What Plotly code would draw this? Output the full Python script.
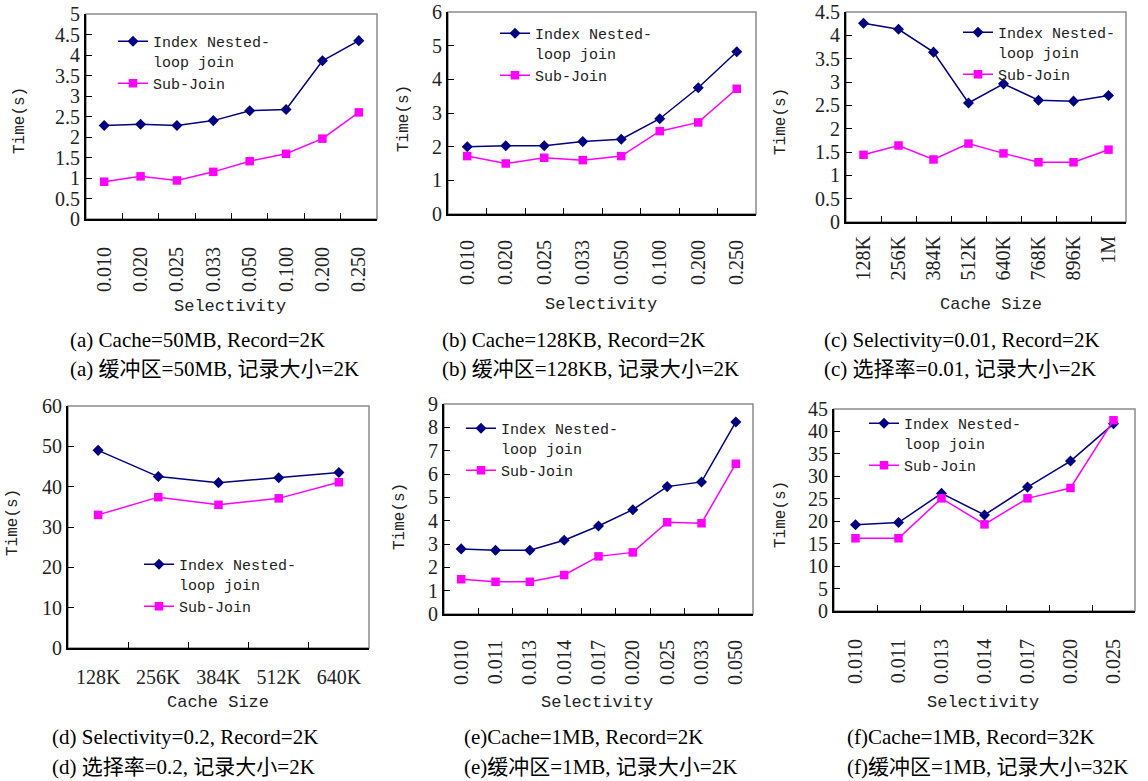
import plotly.graph_objects as go

W, H = 1148, 781

# ---------------- data ----------------
sel_a = ["0.010", "0.020", "0.025", "0.033", "0.050", "0.100", "0.200", "0.250"]
inlj_a = [2.28, 2.31, 2.28, 2.40, 2.64, 2.67, 3.86, 4.35]
sub_a = [0.91, 1.04, 0.94, 1.15, 1.41, 1.59, 1.96, 2.60]

sel_b = ["0.010", "0.020", "0.025", "0.033", "0.050", "0.100", "0.200", "0.250"]
inlj_b = [2.00, 2.03, 2.03, 2.15, 2.22, 2.83, 3.75, 4.82]
sub_b = [1.72, 1.50, 1.67, 1.60, 1.72, 2.46, 2.72, 3.72]

cache_c = ["128K", "256K", "384K", "512K", "640K", "768K", "896K", "1M"]
inlj_c = [4.26, 4.13, 3.64, 2.55, 2.96, 2.61, 2.59, 2.71]
sub_c = [1.44, 1.64, 1.34, 1.68, 1.47, 1.28, 1.28, 1.55]

cache_d = ["128K", "256K", "384K", "512K", "640K"]
inlj_d = [49.0, 42.5, 41.0, 42.2, 43.5]
sub_d = [33.0, 37.4, 35.5, 37.1, 41.1]

sel_e = ["0.010", "0.011", "0.013", "0.014", "0.017", "0.020", "0.025", "0.033", "0.050"]
inlj_e = [2.79, 2.73, 2.73, 3.16, 3.77, 4.47, 5.46, 5.66, 8.23]
sub_e = [1.49, 1.38, 1.38, 1.67, 2.47, 2.64, 3.93, 3.89, 6.44]

sel_f = ["0.010", "0.011", "0.013", "0.014", "0.017", "0.020", "0.025"]
inlj_f = [19.2, 19.7, 26.2, 21.4, 27.6, 33.4, 41.7]
sub_f = [16.2, 16.2, 25.1, 19.3, 25.1, 27.4, 42.5]

series_names = ["Index Nested-<br>loop join", "Sub-Join"]

captions_en = ["(a) Cache=50MB, Record=2K", "(b) Cache=128KB, Record=2K",
               "(c) Selectivity=0.01, Record=2K", "(d) Selectivity=0.2, Record=2K",
               "(e)Cache=1MB, Record=2K", "(f)Cache=1MB, Record=32K"]
captions_zh = ["(a) 缓冲区=50MB, 记录大小=2K", "(b) 缓冲区=128KB, 记录大小=2K",
               "(c) 选择率=0.01, 记录大小=2K", "(d) 选择率=0.2, 记录大小=2K",
               "(e)缓冲区=1MB, 记录大小=2K", "(f)缓冲区=1MB, 记录大小=32K"]
x_titles = ["Selectivity", "Selectivity", "Cache Size", "Cache Size", "Selectivity", "Selectivity"]
y_title = "Time(s)"

# ---------------- layout config (pixel positions) ----------------
panels = [
    dict(cats=sel_a, y1=inlj_a, y2=sub_a, ymax=5, dtick=0.5, box=(86, 14, 377, 219), angle=-90,
         leg=(113, 25), xt=(230, 306), yt=(20, 121), cap=(68, 340, 369), stand=18),
    dict(cats=sel_b, y1=inlj_b, y2=sub_b, ymax=6, dtick=1, box=(448, 12, 756, 214), angle=-90,
         leg=(495, 17), xt=(601, 305), yt=(404, 119), cap=(440, 340, 369), stand=16),
    dict(cats=cache_c, y1=inlj_c, y2=sub_c, ymax=4.5, dtick=0.5, box=(846, 12, 1126, 222), angle=-90,
         leg=(958, 16), xt=(991, 304), yt=(781, 122), cap=(822, 340, 369), stand=4),
    dict(cats=cache_d, y1=inlj_d, y2=sub_d, ymax=60, dtick=10, box=(68, 406, 369, 648), angle=0,
         leg=(139, 548), xt=(218, 702), yt=(13, 523), cap=(50, 737, 767), stand=10),
    dict(cats=sel_e, y1=inlj_e, y2=sub_e, ymax=9, dtick=1, box=(444, 404, 753, 614), angle=-90,
         leg=(461, 412), xt=(597, 702), yt=(400, 517), cap=(462, 737, 767), stand=16),
    dict(cats=sel_f, y1=inlj_f, y2=sub_f, ymax=45, dtick=5, box=(834, 409, 1135, 611), angle=-90,
         leg=(864, 407), xt=(983, 702), yt=(781, 515), cap=(845, 737, 767), stand=18),
]

NAVY = "#000080"
MAG = "#FF00FF"
TXT = "#222222"
TICKFONT = dict(family="Liberation Serif, Times New Roman, serif", size=20, color=TXT)
MONO = "Liberation Mono, DejaVu Sans Mono, monospace"
CAPFONT = "Liberation Serif, Noto Sans CJK SC, serif"


def px(x):
    return x / W


def py(y):
    return 1 - y / H


fig = go.Figure()
layout = dict(
    width=W, height=H,
    margin=dict(l=0, r=0, t=0, b=0, autoexpand=False),
    paper_bgcolor="white", plot_bgcolor="white",
    showlegend=True,
    shapes=[], annotations=[],
)

for i, p in enumerate(panels):
    n = i + 1
    xa = "x" if n == 1 else f"x{n}"
    ya = "y" if n == 1 else f"y{n}"
    lg = "legend" if n == 1 else f"legend{n}"
    fig.add_trace(go.Scatter(
        x=p["cats"], y=p["y1"], name=series_names[0], mode="lines+markers",
        line=dict(color=NAVY, width=1.5),
        marker=dict(symbol="diamond", size=8.5, color=NAVY),
        xaxis=xa, yaxis=ya, legend=lg,
    ))
    fig.add_trace(go.Scatter(
        x=p["cats"], y=p["y2"], name=series_names[1], mode="lines+markers",
        line=dict(color=MAG, width=1.5),
        marker=dict(symbol="square", size=8.5, color=MAG),
        xaxis=xa, yaxis=ya, legend=lg,
    ))
    x0, y0, x1, y1 = p["box"]
    xkey = "xaxis" if n == 1 else f"xaxis{n}"
    ykey = "yaxis" if n == 1 else f"yaxis{n}"
    layout[xkey] = dict(
        domain=[px(x0), px(x1)], anchor=ya, type="category",
        range=[-0.5, len(p["cats"]) - 0.5],
        showline=True, linecolor="black", linewidth=2,
        ticks="inside", tickson="boundaries", ticklen=6, tickcolor="black", tickwidth=1,
        tickangle=p["angle"], tickfont=TICKFONT, ticklabelstandoff=p["stand"],
        showgrid=False, zeroline=False, fixedrange=True, automargin=False,
    )
    layout[ykey] = dict(
        domain=[py(y1), py(y0)], anchor=xa,
        range=[0, p["ymax"]], dtick=p["dtick"], tick0=0,
        showline=True, linecolor="black", linewidth=2,
        ticks="inside", ticklen=6, tickcolor="black", tickwidth=1,
        tickfont=TICKFONT, showgrid=False, zeroline=False, fixedrange=True, automargin=False,
    )
    layout["shapes"].append(dict(
        type="rect", xref=f"{xa} domain", yref=f"{ya} domain",
        x0=0, x1=1, y0=0, y1=1, layer="below",
        line=dict(color="#8c8c8c", width=1.5),
    ))
    layout[lg] = dict(
        x=px(p["leg"][0]), y=py(p["leg"][1]), xanchor="left", yanchor="top",
        xref="paper", yref="paper",
        bgcolor="rgba(255,255,255,0)", borderwidth=0, valign="top",
        font=dict(family=MONO, size=15, color=TXT),
        tracegroupgap=0,
    )
    layout["annotations"].append(dict(
        text=x_titles[i], x=px(p["xt"][0]), y=py(p["xt"][1]), xref="paper", yref="paper",
        showarrow=False, xanchor="center", yanchor="middle",
        font=dict(family=MONO, size=17, color=TXT),
    ))
    layout["annotations"].append(dict(
        text=y_title, x=px(p["yt"][0]), y=py(p["yt"][1]), xref="paper", yref="paper",
        showarrow=False, xanchor="center", yanchor="middle", textangle=-90,
        font=dict(family=MONO, size=16, color=TXT),
    ))
    layout["annotations"].append(dict(
        text=captions_en[i], x=px(p["cap"][0]), y=py(p["cap"][1]), xref="paper", yref="paper",
        showarrow=False, xanchor="left", yanchor="middle",
        font=dict(family=CAPFONT, size=21, color="black"),
    ))
    layout["annotations"].append(dict(
        text=captions_zh[i], x=px(p["cap"][0]), y=py(p["cap"][2]), xref="paper", yref="paper",
        showarrow=False, xanchor="left", yanchor="middle",
        font=dict(family=CAPFONT, size=21, color="black"),
    ))

fig.update_layout(**layout)
fig.write_html("out.html", config={"displayModeBar": False},
               post_script="document.body.style.margin='0px';")
